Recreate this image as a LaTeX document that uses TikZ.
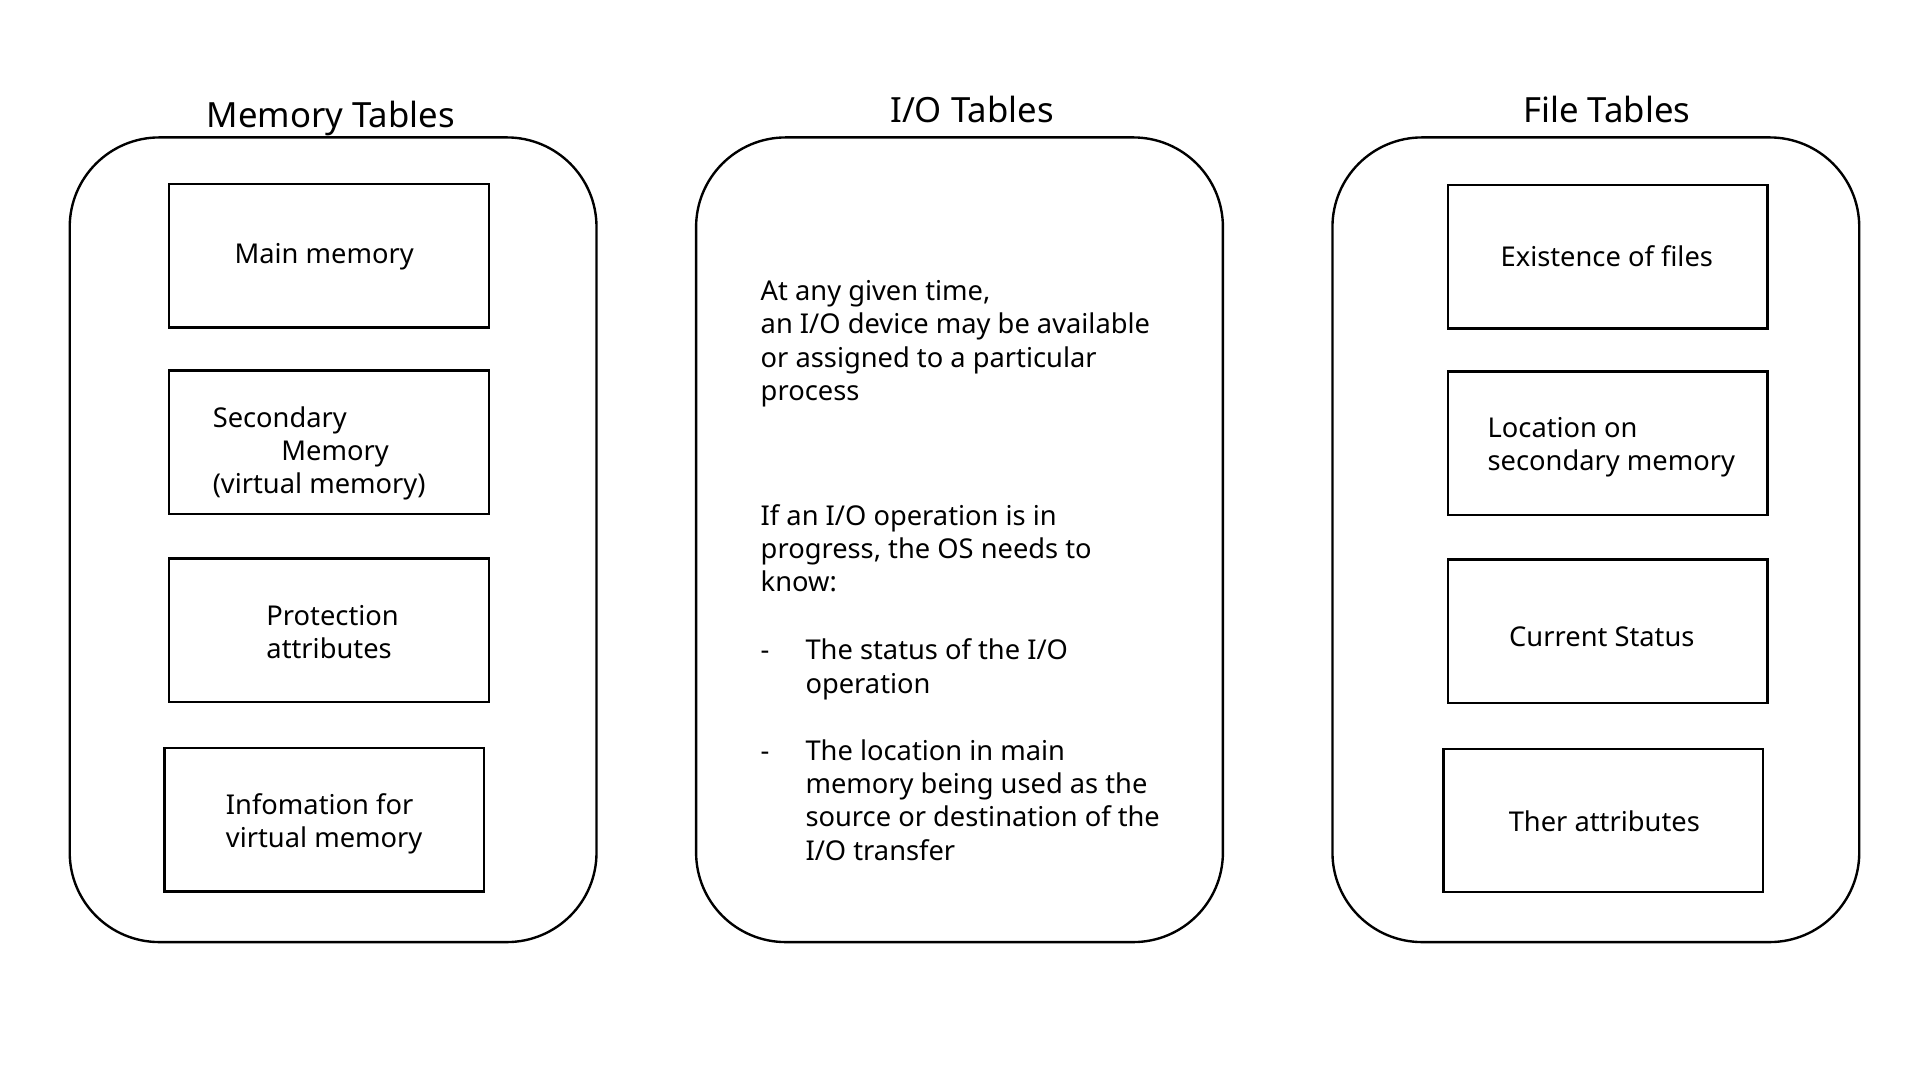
\documentclass[tikz,border=0pt]{standalone}
\usepackage{fontspec}
\setmainfont{Noto Sans}
\usetikzlibrary{positioning}

\begin{document}
\begin{tikzpicture}[x=1bp, y=-1bp,
    panel/.style={draw, line width=2.4bp, rounded corners=90bp, minimum width=529bp, minimum height=808bp},
    cell/.style={draw, line width=2.4bp, minimum width=321bp, minimum height=144bp, inner sep=0pt, outer sep=0pt},
    celltext/.style={inner sep=0pt, align=left, font=\fontsize{27.5}{33.5}\selectfont},
    heading/.style={anchor=base, font=\fontsize{35}{42}\selectfont}]
    \useasboundingbox (0,0) rectangle (1928,1084.5);

    % Memory Tables
    \node[panel] (mem) at (334.5,542) {};
    \node[heading] (memtitle) at (332,128.4) {Memory Tables};
    \node[cell] (main) at (330.5,257) {};
    \node[cell] (second) [below=43bp of main] {};
    \node[cell] (protect) [below=45bp of second] {};
    \node[cell] (virt) [below=46bp of protect, xshift=-5bp] {};
    \node[celltext, xshift=-5bp, yshift=-1bp] at (main.center) {Main memory};
    \node[celltext, xshift=-10bp, yshift=-11.5bp] at (second.center) {Secondary\\ \hspace*{69bp}Memory\\ (virtual memory)};
    \node[celltext, xshift=3.5bp, yshift=-2bp] at (protect.center) {Protection\\ attributes};
    \node[celltext, yshift=-4bp] at (virt.center) {Infomation for\\ virtual memory};

    % I/O Tables
    \node[panel] (io) at (963.5,542) {};
    \node[heading] (iotitle) at (976,123.5) {I/O Tables};
    \node[anchor=north west, inner sep=0pt, align=left, font=\fontsize{27.5}{33.6}\selectfont] (iotext) at (763.7,281.4)
        {At any given time,\\ an I/O device may be available\\ or assigned to a particular\\ process\\[91.8bp]
         If an I/O operation is in\\ progress, the OS needs to\\ know:\\[34.5bp]
         \makebox[45bp][l]{-}The status of the I/O\\ \hspace*{45bp}operation\\[34bp]
         \makebox[45bp][l]{-}The location in main\\ \hspace*{45bp}memory being used as the\\
         \hspace*{45bp}source or destination of the\\ \hspace*{45bp}I/O transfer};

    % File Tables
    \node[panel] (file) at (1602.5,542) {};
    \node[heading] (filetitle) at (1613.6,123.5) {File Tables};
    \node[cell] (exist) at (1614.5,258) {};
    \node[cell] (loc) [below=43bp of exist] {};
    \node[cell] (status) [below=45bp of loc] {};
    \node[cell] (attr) [below=46bp of status, xshift=-4.5bp] {};
    \node[celltext, xshift=-1bp, yshift=1bp] at (exist.center) {Existence of files};
    \node[celltext, xshift=3.5bp, yshift=-4bp] at (loc.center) {Location on\\ secondary memory};
    \node[celltext, xshift=-6bp, yshift=-5bp] at (status.center) {Current Status};
    \node[celltext, xshift=1bp, yshift=-1bp] at (attr.center) {Ther attributes};
\end{tikzpicture}
\end{document}
